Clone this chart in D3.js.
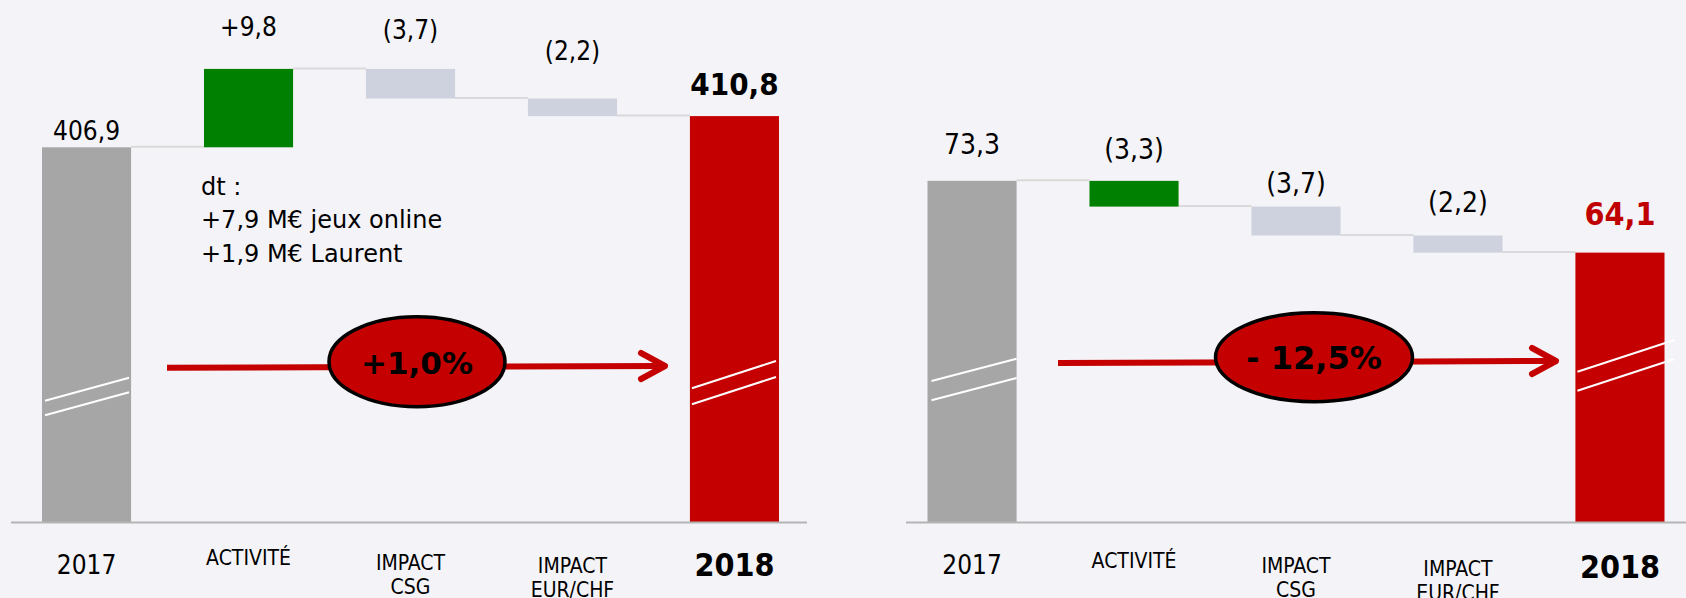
<!DOCTYPE html>
<html lang="fr">
<head>
<meta charset="UTF-8">
<title>Waterfall 2017 - 2018</title>
<script src="https://cdnjs.cloudflare.com/ajax/libs/d3/7.8.5/d3.min.js"></script>
<style>
  body { margin: 0; background: #f4f3f7; }
  svg { display: block; }
  .lbl { font-family: "DejaVu Sans Condensed", "DejaVu Sans", sans-serif; fill: #000; }
  .growth { font-family: "DejaVu Sans", sans-serif; fill: #000; font-weight: bold; }
  .note { font-family: "DejaVu Sans", sans-serif; fill: #000; font-size: 24px; }
</style>
</head>
<body>
<script>
// ---- data ----
var categories = ["2017", "ACTIVITÉ", "IMPACT CSG", "IMPACT EUR/CHF", "2018"];
var tickLines = [["2017"], ["ACTIVITÉ"], ["IMPACT", "CSG"], ["IMPACT", "EUR/CHF"], ["2018"]];
var kinds = ["total", "delta", "delta", "delta", "total"];

var leftValues = [406.9, 9.8, -3.7, -2.2, 410.8];
var leftLabels = ["406,9", "+9,8", "(3,7)", "(2,2)", "410,8"];
var leftGrowth = "+1,0%";

var rightValues = [73.3, -3.3, -3.7, -2.2, 64.1];
var rightLabels = ["73,3", "(3,3)", "(3,7)", "(2,2)", "64,1"];
var rightGrowth = "- 12,5%";

var noteLines = ["dt :", "+7,9 M€ jeux online", "+1,9 M€ Laurent"];

var barColors = ["#a6a6a6", "#008000", "#cdd2de", "#cdd2de", "#c40000"];

// ---- layout ----
var W = 1686, H = 598, baseY = 522.5;

var svg = d3.select("body").append("svg")
    .attr("width", W)
    .attr("height", H);

svg.append("rect")
    .attr("width", W).attr("height", H)
    .attr("fill", "#f4f3f7");

var panels = [
    {
        values: leftValues, labels: leftLabels, growth: leftGrowth,
        xRange: [42, 779], yDomain: [360, 420], yRange: [baseY, baseY - 60 * 8],
        axis: [11, 807],
        labelGap: [7, 33, 30, 39, 21], labelSize: 26, lastSize: 31, lastColor: "#000",
        tickBase: [574, 565, 570, 573, 576],
        arrow: {x0: 167, y0: 367.7, x1: 665, y1: 366, cx: 417, cy: 361.7, rx: 88, ry: 45, size: 31},
        breaks: [
            {bar: 0, y: 400.7, rise: 23, gap: 14.5, dx0: 3, dx1: -2},
            {bar: 4, y: 388.3, rise: 27.3, gap: 16, dx0: 2, dx1: -3}
        ]
    },
    {
        values: rightValues, labels: rightLabels, growth: rightGrowth,
        xRange: [927.5, 1664.5], yDomain: [29.5, 80], yRange: [baseY, baseY - 50.5 * 7.8],
        axis: [906, 1686],
        labelGap: [27, 22, 14, 23, 28], labelSize: 28, lastSize: 32, lastColor: "#c00000",
        tickBase: [574, 567.5, 572.5, 576, 578],
        arrow: {x0: 1058, y0: 363, x1: 1556, y1: 361, cx: 1314, cy: 357.2, rx: 98.5, ry: 44.5, size: 32},
        breaks: [
            {bar: 0, y: 381, rise: 22.3, gap: 19.3, dx0: 4, dx1: 0},
            {bar: 4, y: 371.7, rise: 31.7, gap: 19, dx0: 2, dx1: 10}
        ]
    }
];

panels.forEach(function(p) {
    var x = d3.scaleBand().domain(categories).range(p.xRange).paddingInner(0.45).paddingOuter(0);
    var y = d3.scaleLinear().domain(p.yDomain).range(p.yRange);

    // running totals for the waterfall
    var running = 0;
    var bars = p.values.map(function(v, i) {
        var from, to;
        if (kinds[i] == "total") {
            from = p.yDomain[0];
            to = v;
            running = v;
        } else {
            from = running;
            to = running + v;
            running = to;
        }
        return {cat: categories[i], i: i, from: from, to: to, level: running, label: p.labels[i]};
    });

    var g = svg.append("g");

    // connectors
    g.selectAll("line.conn")
        .data(bars.slice(0, -1))
        .enter()
        .append("line")
        .attr("class", "conn")
        .attr("x1", function(d) { return x(d.cat) + x.bandwidth(); })
        .attr("x2", function(d) { return x(categories[d.i + 1]); })
        .attr("y1", function(d) { return y(d.level) - 0.5; })
        .attr("y2", function(d) { return y(d.level) - 0.5; })
        .attr("stroke", "#dadada")
        .attr("stroke-width", 2);

    // bars
    g.selectAll("rect.bar")
        .data(bars)
        .enter()
        .append("rect")
        .attr("class", "bar")
        .attr("x", function(d) { return x(d.cat); })
        .attr("width", x.bandwidth())
        .attr("y", function(d) { return y(Math.max(d.from, d.to)); })
        .attr("height", function(d) { return Math.abs(y(d.from) - y(d.to)); })
        .attr("fill", function(d) { return barColors[d.i]; });

    // axis break marks on the total bars
    p.breaks.forEach(function(b) {
        var xb = x(categories[b.bar]);
        [0, b.gap].forEach(function(off) {
            g.append("line")
                .attr("x1", xb + b.dx0)
                .attr("x2", xb + x.bandwidth() + b.dx1)
                .attr("y1", b.y + off)
                .attr("y2", b.y + off - b.rise)
                .attr("stroke", "#fff")
                .attr("stroke-width", 2);
        });
    });

    // baseline
    g.append("line")
        .attr("x1", p.axis[0]).attr("x2", p.axis[1])
        .attr("y1", baseY).attr("y2", baseY)
        .attr("stroke", "#b4b4b4")
        .attr("stroke-width", 2);

    // value labels
    g.selectAll("text.val")
        .data(bars)
        .enter()
        .append("text")
        .attr("class", "lbl val")
        .attr("x", function(d) { return x(d.cat) + x.bandwidth() / 2; })
        .attr("y", function(d) { return y(Math.max(d.from, d.to)) - p.labelGap[d.i]; })
        .attr("text-anchor", "middle")
        .style("font-size", function(d) { return (d.i == 4 ? p.lastSize : p.labelSize) + "px"; })
        .style("font-weight", function(d) { return d.i == 4 ? "bold" : "normal"; })
        .style("fill", function(d) { return d.i == 4 ? p.lastColor : "#000"; })
        .text(function(d) { return d.label; });

    // category labels
    var ticks = g.selectAll("text.tick")
        .data(categories)
        .enter()
        .append("text")
        .attr("class", "lbl tick")
        .attr("text-anchor", "middle")
        .attr("y", function(d, i) { return p.tickBase[i]; })
        .style("font-size", function(d, i) { return (i == 0 ? 26 : i == 4 ? 32 : 21) + "px"; })
        .style("font-weight", function(d, i) { return i == 4 ? "bold" : "normal"; });

    ticks.selectAll("tspan")
        .data(function(d, i) { return tickLines[i].map(function(t) { return {t: t, cat: d}; }); })
        .enter()
        .append("tspan")
        .attr("x", function(d) { return x(d.cat) + x.bandwidth() / 2; })
        .attr("dy", function(d, j) { return j == 0 ? 0 : 24; })
        .text(function(d) { return d.t; });

    // growth arrow
    var a = p.arrow;
    g.append("line")
        .attr("x1", a.x0).attr("y1", a.y0)
        .attr("x2", a.x1 - 3).attr("y2", a.y1)
        .attr("stroke", "#c40000")
        .attr("stroke-width", 6);
    g.append("path")
        .attr("d", "M" + (a.x1 - 24) + "," + (a.y1 - 13) + "L" + a.x1 + "," + a.y1 + "L" + (a.x1 - 24) + "," + (a.y1 + 13))
        .attr("fill", "none")
        .attr("stroke", "#c40000")
        .attr("stroke-width", 6)
        .attr("stroke-linecap", "round")
        .attr("stroke-linejoin", "round");
    g.append("ellipse")
        .attr("cx", a.cx).attr("cy", a.cy)
        .attr("rx", a.rx).attr("ry", a.ry)
        .attr("fill", "#c40000")
        .attr("stroke", "#000")
        .attr("stroke-width", 3.5);
    g.append("text")
        .attr("class", "growth")
        .attr("x", a.cx)
        .attr("y", a.cy + 12)
        .attr("text-anchor", "middle")
        .style("font-size", a.size + "px")
        .text(p.growth);
});

// note under the activity step (left chart)
svg.append("text")
    .attr("class", "note")
    .selectAll("tspan")
    .data(noteLines)
    .enter()
    .append("tspan")
    .attr("x", 201)
    .attr("y", function(d, i) { return [195, 227.5, 261.5][i]; })
    .text(function(d) { return d; });
</script>
</body>
</html>
